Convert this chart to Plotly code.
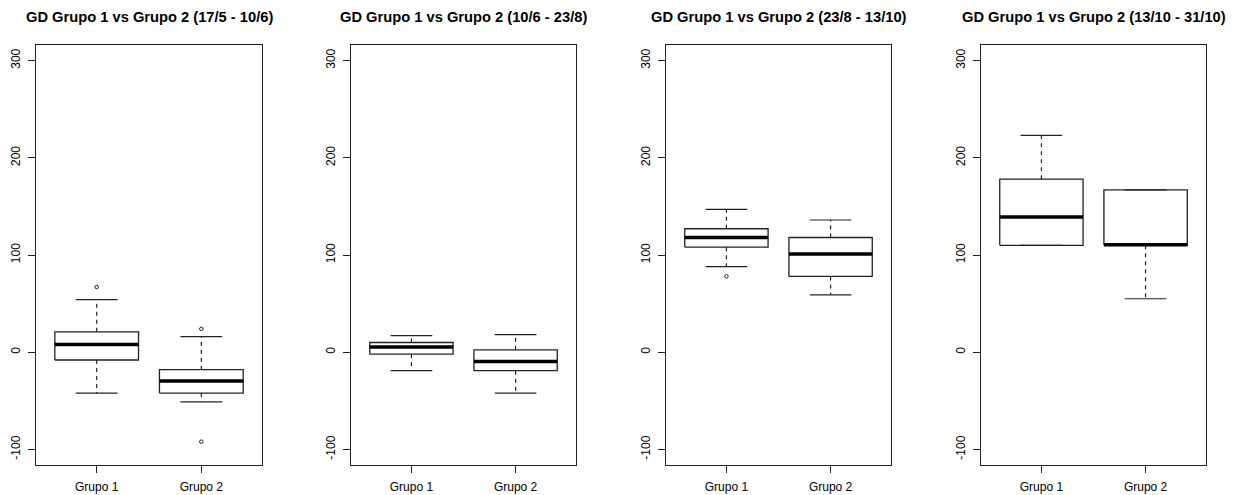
import plotly.graph_objects as go

# ---- data ----
groups = ["Grupo 1", "Grupo 2"]
periods = ["17/5 - 10/6", "10/6 - 23/8", "23/8 - 13/10", "13/10 - 31/10"]
lower_whisker = [[-42, -51], [-19, -42], [88, 59], [110, 55]]
q1 = [[-8, -42], [-2, -19], [108, 78], [110, 110]]
median = [[8, -29.5], [5.5, -9.5], [118, 101], [139, 110.5]]
q3 = [[21, -18], [10, 2.5], [127, 118], [178, 167]]
upper_whisker = [[54, 16], [17, 18], [147, 136], [223, 167]]
outliers = [[[67], [24, -92]], [[], []], [[78], []], [[], []]]
y_ticks = [-100, 0, 100, 200, 300]

# page body has an 8px margin, so the figure is shifted by it
OFF = 8
W, H = 1237 - OFF, 495 - OFF
panel_px = [(36, 262), (351, 576), (666, 891), (981, 1206)]
top_px, bot_px = 45, 465
BOXW = 0.4
CAPW = 0.2
LC = "#222222"
FONT = "Liberation Sans, Arial, sans-serif"

fig = go.Figure()
for p in range(4):
    xa = "x" if p == 0 else f"x{p+1}"
    ya = "y" if p == 0 else f"y{p+1}"
    for g in range(2):
        c = g + 1
        # box
        fig.add_trace(go.Scatter(
            x=[c - BOXW, c + BOXW, c + BOXW, c - BOXW, c - BOXW],
            y=[q1[p][g], q1[p][g], q3[p][g], q3[p][g], q1[p][g]],
            mode="lines", line=dict(color=LC, width=1.3),
            xaxis=xa, yaxis=ya, showlegend=False, hoverinfo="skip"))
        # whiskers (dashed)
        fig.add_trace(go.Scatter(
            x=[c, c, None, c, c],
            y=[q3[p][g], upper_whisker[p][g], None, q1[p][g], lower_whisker[p][g]],
            mode="lines", line=dict(color=LC, width=1.2, dash="4px,4px"),
            xaxis=xa, yaxis=ya, showlegend=False, hoverinfo="skip"))
        # staples
        fig.add_trace(go.Scatter(
            x=[c - CAPW, c + CAPW, None, c - CAPW, c + CAPW],
            y=[upper_whisker[p][g], upper_whisker[p][g], None,
               lower_whisker[p][g], lower_whisker[p][g]],
            mode="lines", line=dict(color=LC, width=1.2),
            xaxis=xa, yaxis=ya, showlegend=False, hoverinfo="skip"))
        # median
        fig.add_trace(go.Scatter(
            x=[c - BOXW, c + BOXW], y=[median[p][g], median[p][g]],
            mode="lines", line=dict(color="black", width=3.5),
            xaxis=xa, yaxis=ya, showlegend=False, hoverinfo="skip"))
        # outliers
        if outliers[p][g]:
            fig.add_trace(go.Scatter(
                x=[c] * len(outliers[p][g]), y=outliers[p][g],
                mode="markers",
                marker=dict(symbol="circle-open", size=3.5, color=LC,
                            line=dict(width=1)),
                xaxis=xa, yaxis=ya, showlegend=False, hoverinfo="skip"))

layout = dict(
    width=W, height=H, margin=dict(l=0, r=0, t=0, b=0, autoexpand=False),
    paper_bgcolor="white", plot_bgcolor="white",
    font=dict(family=FONT, size=12, color="black"),
    annotations=[],
)
axis_common = dict(showline=True, linecolor=LC, linewidth=1, mirror=True,
                   showgrid=False, zeroline=False, ticks="outside",
                   ticklen=7, tickcolor=LC, tickwidth=1, automargin=False,
                   tickfont=dict(family=FONT, size=12, color="black"))
for p in range(4):
    l, r = panel_px[p]
    l, r = l - OFF, r - OFF
    sx = "" if p == 0 else str(p + 1)
    layout[f"xaxis{sx}"] = dict(
        axis_common, domain=[l / W, r / W], range=[0.42, 2.58],
        tickvals=[1, 2], ticktext=groups, anchor=f"y{sx}",
        ticklabelstandoff=4)
    layout[f"yaxis{sx}"] = dict(
        axis_common, domain=[1 - (bot_px - OFF) / H, 1 - (top_px - OFF) / H],
        range=[-116, 316], tickvals=y_ticks,
        ticktext=[str(v) for v in y_ticks], tickangle=-90,
        anchor=f"x{sx}", ticklabelstandoff=3)
    layout["annotations"].append(dict(
        text=f"<b>GD Grupo 1 vs Grupo 2 ({periods[p]})</b>",
        x=(l + r) / 2 / W, y=1 - (17 - OFF) / H, xref="paper", yref="paper",
        xanchor="center", yanchor="middle", showarrow=False,
        font=dict(family=FONT, size=14.7, color="black")))

fig.update_layout(**layout)
fig.write_html("out.html")
